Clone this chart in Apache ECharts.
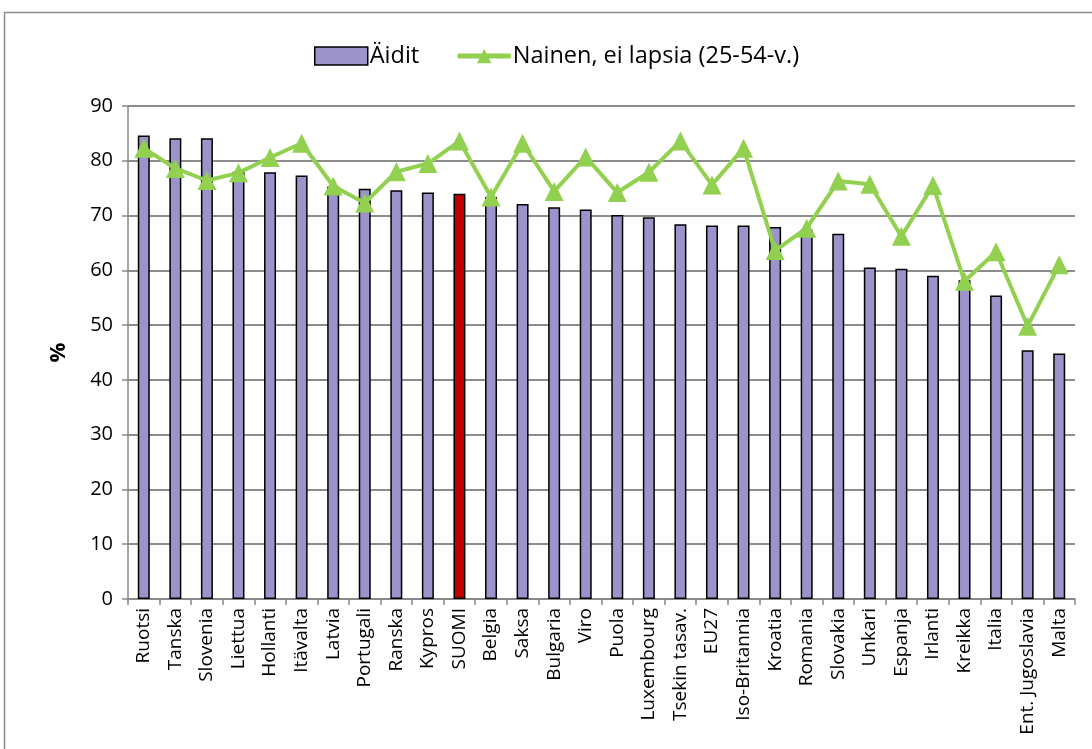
<!DOCTYPE html>
<html>
<head>
<meta charset="utf-8">
<script src="https://cdn.jsdelivr.net/npm/echarts@6/dist/echarts.min.js"></script>
<style>
  html, body { margin: 0; padding: 0; background: #fff; }
  #chart { width: 1092px; height: 749px; }
</style>
</head>
<body>
<div id="chart"></div>
<script>
// maat
const countries = ['Ruotsi', 'Tanska', 'Slovenia', 'Liettua', 'Hollanti', 'Itävalta', 'Latvia', 'Portugali',
  'Ranska', 'Kypros', 'SUOMI', 'Belgia', 'Saksa', 'Bulgaria', 'Viro', 'Puola', 'Luxembourg', 'Tsekin tasav.',
  'EU27', 'Iso-Britannia', 'Kroatia', 'Romania', 'Slovakia', 'Unkari', 'Espanja', 'Irlanti', 'Kreikka',
  'Italia', 'Ent. Jugoslavia', 'Malta'];

// Äidit (%)
const mothers = [84.6, 84.1, 84.1, 78.0, 77.9, 77.3, 75.3, 74.9, 74.6, 74.2, 74.0, 73.4, 72.1, 71.5, 71.1,
  70.1, 69.7, 68.4, 68.2, 68.2, 67.9, 67.4, 66.7, 60.5, 60.3, 59.0, 58.2, 55.4, 45.4, 44.8];

// Nainen, ei lapsia (25-54-v.) (%)
const noKids = [82.3, 78.6, 76.4, 77.8, 80.6, 83.2, 75.4, 72.3, 78.0, 79.5, 83.6, 73.4, 83.2, 74.4, 80.7,
  74.2, 77.9, 83.6, 75.6, 82.3, 63.6, 67.7, 76.3, 75.7, 66.2, 75.5, 58.0, 63.4, 49.8, 61.0];

const yTicks = [0, 10, 20, 30, 40, 50, 60, 70, 80, 90];

const FONT = '"Open Sans"';
const BAR_COLOR = '#9B93C9';
const HIGHLIGHT = '#C00000';
const LINE_COLOR = '#92D050';

const chart = echarts.init(document.getElementById('chart'));

const option = {
  animation: false,
  textStyle: { fontFamily: FONT, color: '#000' },
  graphic: [{
    type: 'rect',
    shape: { x: 4.5, y: 12.5, width: 1100, height: 760 },
    style: { fill: 'none', stroke: '#8c8c8c', lineWidth: 1.5 },
    silent: true
  }],
  legend: {
    top: 39,
    left: 309,
    itemGap: 36,
    itemWidth: 53,
    itemHeight: 18,
    textStyle: { fontFamily: FONT, fontSize: 23.5, color: '#000', padding: [0, 0, 0, -3] },
    data: [
      { name: 'Äidit', icon: 'rect', itemStyle: { color: BAR_COLOR, borderColor: '#000', borderWidth: 1.5 } },
      { name: 'Nainen, ei lapsia (25-54-v.)', lineStyle: { width: 5 }, itemStyle: { color: LINE_COLOR } }
    ]
  },
  grid: { left: 128, right: 17, top: 106, bottom: 150 },
  xAxis: {
    type: 'category',
    data: countries,
    boundaryGap: true,
    axisLine: { lineStyle: { color: '#888', width: 1.5 } },
    axisTick: { show: true, length: 6, lineStyle: { color: '#888', width: 1.5 } },
    axisLabel: {
      rotate: 90,
      interval: 0,
      fontSize: 19,
      color: '#000',
      margin: 9,
      fontFamily: FONT
    }
  },
  yAxis: {
    type: 'value',
    min: yTicks[0],
    max: yTicks[yTicks.length - 1],
    interval: 10,
    name: '%',
    nameLocation: 'middle',
    nameGap: 58,
    nameRotate: 90,
    nameTextStyle: { fontSize: 22, fontWeight: 'bold', color: '#000', fontFamily: FONT },
    axisLine: { show: true, lineStyle: { color: '#888', width: 1.5 } },
    axisTick: { show: true, length: 6, lineStyle: { color: '#888', width: 1.5 } },
    axisLabel: { fontSize: 20, color: '#000', margin: 15, fontFamily: FONT },
    splitLine: { lineStyle: { color: '#8c8c8c', width: 2 } }
  },
  series: [
    {
      name: 'Äidit',
      type: 'bar',
      barWidth: 12,
      data: mothers.map((v, i) => ({
        value: v,
        itemStyle: { color: countries[i] === 'SUOMI' ? HIGHLIGHT : BAR_COLOR }
      })),
      itemStyle: { color: BAR_COLOR, borderColor: '#000', borderWidth: 1.5 },
      z: 2
    },
    {
      name: 'Nainen, ei lapsia (25-54-v.)',
      type: 'line',
      data: noKids,
      symbol: 'triangle',
      symbolSize: 19,
      lineStyle: { color: LINE_COLOR, width: 4 },
      itemStyle: { color: LINE_COLOR },
      z: 3
    }
  ]
};

chart.setOption(option);
</script>
</body>
</html>
